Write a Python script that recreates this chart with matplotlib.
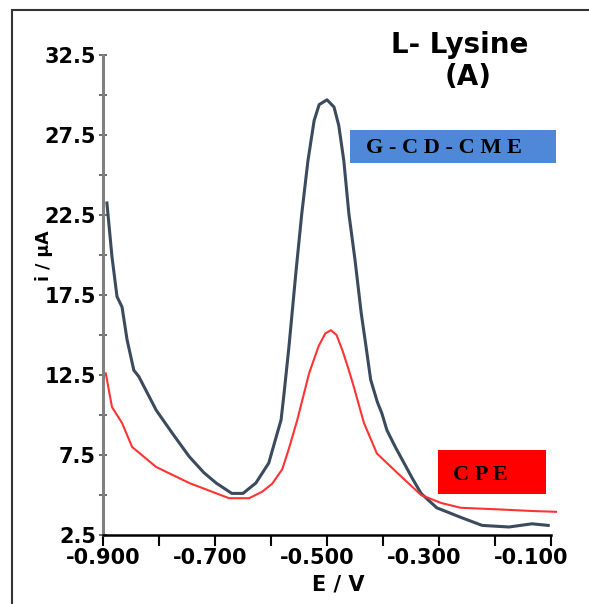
import matplotlib.pyplot as plt
from matplotlib.patches import Rectangle
from matplotlib.transforms import ScaledTranslation

# Dữ liệu
e_gcd = [-0.893, -0.884, -0.875, -0.866, -0.857, -0.845, -0.836, -0.805, -0.775, -0.746,
         -0.72, -0.698, -0.67, -0.65, -0.627, -0.604, -0.582, -0.577, -0.568, -0.555,
         -0.545, -0.534, -0.523, -0.514, -0.50, -0.4875, -0.479, -0.470, -0.461, -0.45,
         -0.439, -0.430, -0.422, -0.41, -0.402, -0.393, -0.378, -0.3625, -0.347, -0.332,
         -0.304, -0.261, -0.223, -0.175, -0.134, -0.105]
i_gcd = [23.25, 19.9, 17.4, 16.75, 14.7, 12.8, 12.4, 10.3, 8.8, 7.4,
         6.4, 5.75, 5.1, 5.1, 5.75, 7.0, 9.7, 11.25, 14.25, 19.1,
         22.6, 25.9, 28.4, 29.4, 29.7, 29.25, 28.1, 25.9, 22.6, 19.7,
         16.4, 14.2, 12.2, 10.8, 10.1, 9.05, 8.0, 7.0, 6.0, 5.1,
         4.2, 3.6, 3.1, 3.0, 3.2, 3.1]

e_cpe = [-0.895, -0.884, -0.866, -0.848, -0.805, -0.746, -0.675, -0.639, -0.616, -0.598,
         -0.58, -0.568, -0.553, -0.532, -0.515, -0.503, -0.493, -0.483, -0.472, -0.461,
         -0.452, -0.434, -0.411, -0.375, -0.332, -0.296, -0.261, -0.193, -0.134, -0.091]
i_cpe = [12.6, 10.5, 9.5, 8.0, 6.75, 5.75, 4.8, 4.8, 5.2, 5.7,
         6.6, 7.9, 9.7, 12.6, 14.3, 15.1, 15.3, 15.0, 14.0, 12.8,
         11.75, 9.5, 7.6, 6.4, 5.0, 4.5, 4.2, 4.1, 4.0, 3.95]

x_ticks = [-0.9, -0.8, -0.7, -0.6, -0.5, -0.4, -0.3, -0.2, -0.1]
x_labels = ['-0.900', '', '-0.700', '', '-0.500', '', '-0.300', '', '-0.100']
y_ticks = [2.5, 7.5, 12.5, 17.5, 22.5, 27.5, 32.5]
y_minor = [5, 10, 15, 20, 25, 30]

fig = plt.figure(figsize=(5.89, 6.04), dpi=100)
ax = fig.add_axes([103 / 589, 1 - 535 / 604, 448 / 589, 480 / 604])

# Khung ngoài
fig.add_artist(Rectangle((12 / 589, -0.1), 1.2, 1 - 10 / 604 + 0.1,
                         transform=fig.transFigure, fill=False,
                         edgecolor='#333333', linewidth=1.5))

# Vẽ đường
ax.plot(e_gcd, i_gcd, color='#3b4a5c', linewidth=2.2, clip_on=False, solid_joinstyle='round')
ax.plot(e_cpe, i_cpe, color='#ff3333', linewidth=1.5, clip_on=False, solid_joinstyle='round')

ax.set_xlim(-0.9, -0.1)
ax.set_ylim(2.5, 32.5)
ax.set_xticks(x_ticks)
ax.set_xticklabels(x_labels, fontsize=15, fontweight='bold')
ax.set_yticks(y_ticks)
ax.set_yticks(y_minor, minor=True)
ax.set_yticklabels([str(v) for v in y_ticks], fontsize=15, fontweight='bold')
ax.tick_params(axis='x', direction='out', length=8, width=1.5, pad=1)
ax.tick_params(axis='y', which='both', direction='inout', length=6, width=1.2, color='#555555', pad=2)

# Nhãn trục x hơi lệch sang trái như hình gốc
for k, lab in enumerate(ax.get_xticklabels()):
    dx = -2.5 * k
    lab.set_transform(lab.get_transform() + ScaledTranslation(dx / 100, 0, fig.dpi_scale_trans))

for s in ['top', 'right']:
    ax.spines[s].set_visible(False)
ax.spines['left'].set_color('#808080')
ax.spines['left'].set_linewidth(2.2)
ax.spines['bottom'].set_linewidth(1.8)

# Nhãn trục
fig.text(338 / 589, 1 - 585 / 604, 'E / V', ha='center', va='center', fontsize=15, fontweight='bold')
fig.text(44 / 589, 1 - 256 / 604, 'i / µA', ha='center', va='center', rotation=90,
         fontsize=12.5, fontweight='bold')

# Tiêu đề
fig.text(460 / 589, 1 - 45 / 604, 'L- Lysine', ha='center', va='center', fontsize=20, fontweight='bold')
fig.text(468 / 589, 1 - 77 / 604, '(A)', ha='center', va='center', fontsize=20, fontweight='bold')

# Hộp chú thích
fig.add_artist(Rectangle((350 / 589, 1 - 163 / 604), 206 / 589, 33 / 604,
                         transform=fig.transFigure, facecolor='#4f88d6', edgecolor='none'))
fig.text(444 / 589, 1 - 148 / 604, 'G - C D - C M E', ha='center', va='center',
         fontsize=16, fontweight='bold', family='Liberation Serif')
fig.add_artist(Rectangle((438 / 589, 1 - 494 / 604), 108 / 589, 44 / 604,
                         transform=fig.transFigure, facecolor='#ff0000', edgecolor='none'))
fig.text(480 / 589, 1 - 475 / 604, 'C P E', ha='center', va='center',
         fontsize=16, fontweight='bold', family='Liberation Serif')

plt.savefig('out.png', dpi=100)
